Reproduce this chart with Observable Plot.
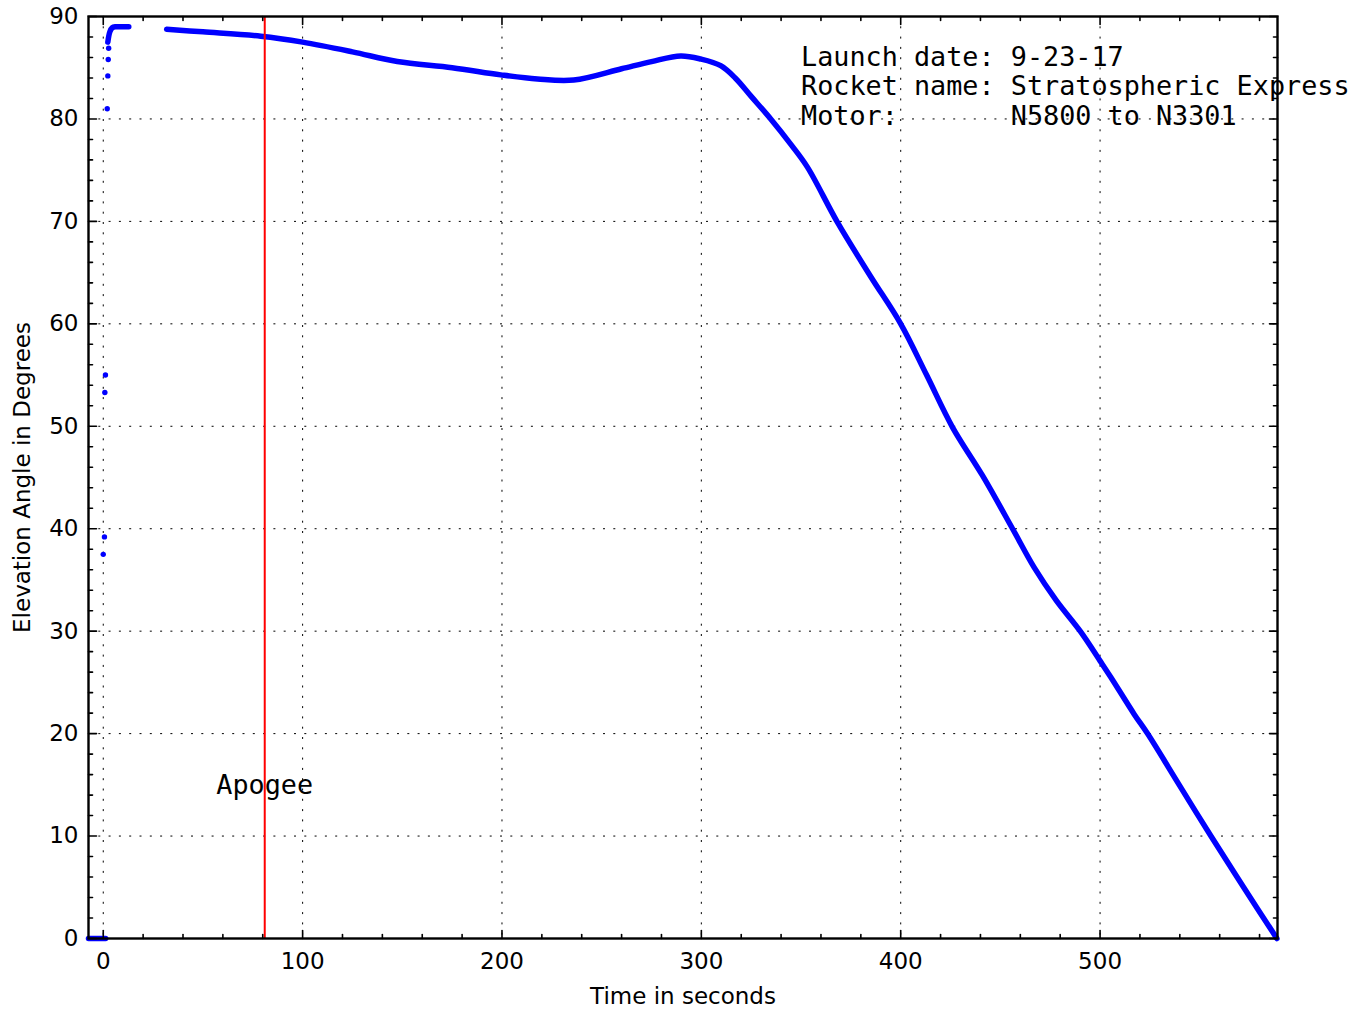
<!DOCTYPE html>
<html><head><meta charset="utf-8">
<script src="https://cdn.jsdelivr.net/npm/d3@7"></script>
<script src="https://cdn.jsdelivr.net/npm/@observablehq/plot@0.6"></script>
<style>html,body{margin:0;padding:0;background:#fff}</style>
</head><body><div id="chart"></div>
<script>
// ---- data ----
const preLaunchTime = [-7.4, 1.2];
const preLaunchElev = [0, 0];
const launchDotTime = [0.0, 0.6, 0.8, 1.1, 2.0, 2.3, 2.5, 2.7];
const launchDotElev = [37.5, 39.2, 53.3, 55.0, 81.0, 84.2, 85.8, 86.9];
const boostTime = [2.3, 3.3, 4.5, 6.2, 9.0, 12.8];
const boostElev = [87.5, 88.5, 88.9, 89.0, 89.0, 89.0];
const flightTime = [31.8, 50, 79, 100, 125, 147.5, 175, 199.4, 217.8, 236, 260, 275, 289.7, 299.7, 309.7, 317, 325, 334.8, 345, 353.2, 368.3, 385, 400, 413, 426, 441, 456.1, 467, 478, 490.4, 500, 505.4, 517.1, 523.8, 540, 555.6, 572, 588.7];
const flightElev = [88.75, 88.5, 88.08, 87.5, 86.55, 85.6, 85.0, 84.3, 83.9, 83.8, 84.9, 85.6, 86.15, 85.85, 85.2, 84.0, 82.2, 80.0, 77.5, 75.3, 69.9, 64.6, 60.0, 55.0, 49.9, 45.2, 40.0, 36.2, 33.0, 29.9, 27.1, 25.5, 21.9, 20.0, 14.9, 10.0, 5.0, 0.0];
const apogeeTime = 81;
const apogeeLabel = "Apogee";
const xMajorTicks = [0, 100, 200, 300, 400, 500];
const xMinorTicks = d3.range(20, 589, 20).filter(v => v % 100 !== 0);
const yMajorTicks = [0, 10, 20, 30, 40, 50, 60, 70, 80, 90];
const yMinorTicks = d3.range(2, 90, 2).filter(v => v % 10 !== 0);
const noteLines = ["Launch date: 9-23-17", "Rocket name: Stratospheric Express", "Motor:       N5800 to N3301"];
const xLabel = "Time in seconds";
const yLabel = "Elevation Angle in Degrees";
const xDomain = [-7.4, 589];
const yDomain = [0, 90];

// ---- build tables ----
const segRows = [
  ...preLaunchTime.map((t, i) => ({t, e: preLaunchElev[i], seg: "pre"})),
  ...boostTime.map((t, i) => ({t, e: boostElev[i], seg: "boost"})),
  ...flightTime.map((t, i) => ({t, e: flightElev[i], seg: "flight"}))
];
const dotRows = launchDotTime.map((t, i) => ({t, e: launchDotElev[i]}));

const tickShape = {draw(ctx, l) { ctx.moveTo(0, 0); ctx.lineTo(0, -l); }};
const mono = "'DejaVu Sans Mono', monospace";
const blue = "#0000ff";
const tickStyle = {shape: tickShape, anchor: "start", stroke: "black", strokeWidth: 1.6};

const chart = Plot.plot({
  width: 1361,
  height: 1009,
  marginLeft: 88,
  marginRight: 84,
  marginTop: 16,
  marginBottom: 71,
  style: {fontFamily: "'DejaVu Sans', sans-serif", fontSize: "23px", background: "white", color: "black"},
  x: {domain: xDomain, label: null},
  y: {domain: yDomain, label: null},
  marks: [
    Plot.gridX(xMajorTicks.filter(v => v > xDomain[0]), {stroke: "black", strokeOpacity: 1, strokeWidth: 1, strokeDasharray: "2,8.3"}),
    Plot.gridY(yMajorTicks.filter(v => v > 0 && v < 90), {stroke: "black", strokeOpacity: 1, strokeWidth: 1, strokeDasharray: "2,8.3"}),
    Plot.line(segRows, {x: "t", y: "e", z: "seg", stroke: blue, strokeWidth: 5.5, curve: "catmull-rom", strokeLinecap: "round", strokeLinejoin: "round"}),
    Plot.dot(dotRows, {x: "t", y: "e", r: 2.7, fill: blue, stroke: null}),
    Plot.ruleX([apogeeTime], {stroke: "#ff0000", strokeWidth: 2}),
    Plot.text([apogeeLabel], {x: apogeeTime, y: 14.15, textAnchor: "middle", lineAnchor: "bottom", fontFamily: mono, fontSize: 26.8, fill: "black"}),
    Plot.text([noteLines.map(s => s.replace(/ /g, "\u00A0")).join("\n")], {x: 350, y: 79.45, textAnchor: "start", lineAnchor: "bottom", lineHeight: 1.1, fontFamily: mono, fontSize: 26.8, fill: "black"}),
    Plot.frame({stroke: "black", strokeWidth: 2.4}),
    // inward ticks, all four sides
    Plot.vector(xMajorTicks, {x: d => d, y: yDomain[0], length: 8, rotate: 0, ...tickStyle}),
    Plot.vector(xMinorTicks, {x: d => d, y: yDomain[0], length: 4, rotate: 0, ...tickStyle}),
    Plot.vector(xMajorTicks, {x: d => d, y: yDomain[1], length: 8, rotate: 180, ...tickStyle}),
    Plot.vector(xMinorTicks, {x: d => d, y: yDomain[1], length: 4, rotate: 180, ...tickStyle}),
    Plot.vector(yMajorTicks, {y: d => d, x: xDomain[0], length: 8, rotate: 90, ...tickStyle}),
    Plot.vector(yMinorTicks, {y: d => d, x: xDomain[0], length: 4, rotate: 90, ...tickStyle}),
    Plot.vector(yMajorTicks, {y: d => d, x: xDomain[1], length: 8, rotate: -90, ...tickStyle}),
    Plot.vector(yMinorTicks, {y: d => d, x: xDomain[1], length: 4, rotate: -90, ...tickStyle}),
    Plot.axisX(xMajorTicks, {anchor: "bottom", tickSize: 0, tickPadding: 14, label: null, fontSize: 23}),
    Plot.axisY(yMajorTicks, {anchor: "left", tickSize: 0, tickPadding: 10, label: null, fontSize: 23}),
    Plot.text([xLabel], {frameAnchor: "bottom", dy: 65, lineAnchor: "bottom", textAnchor: "middle", fontSize: 23, fill: "black"}),
    Plot.text([yLabel], {frameAnchor: "left", dx: -66, rotate: -90, textAnchor: "middle", lineAnchor: "middle", fontSize: 23, fill: "black"})
  ]
});
document.getElementById("chart").appendChild(chart);
</script>
</body></html>
